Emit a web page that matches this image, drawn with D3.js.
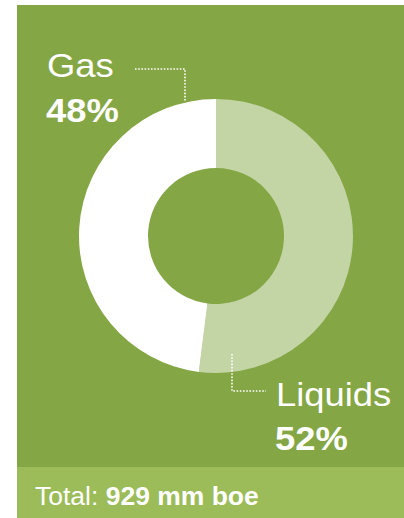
<!DOCTYPE html>
<html>
<head>
<meta charset="utf-8">
<script src="https://cdn.jsdelivr.net/npm/d3@7"></script>
<style>
  html, body { margin: 0; padding: 0; background: #fff; }
  svg { display: block; font-family: "Liberation Sans", Arial, sans-serif; }
</style>
</head>
<body>
<svg id="chart" width="404" height="518"></svg>
<script>
// Production mix
const categories = ["Liquids", "Gas"];
const shares = [52, 48];
const shareLabels = ["52%", "48%"];
const totalLabel = "Total:";
const totalValue = "929 mm boe";

const W = 404, H = 518;
const panel = { x: 17, y: 5, w: 387, h: 462 };
const footerH = H - (panel.y + panel.h);
const colors = d3.scaleOrdinal().domain(categories).range(["#c3d4a5", "#ffffff"]);

const svg = d3.select("#chart");

// background panels
svg.append("rect").attr("x", panel.x).attr("y", panel.y)
  .attr("width", panel.w).attr("height", panel.h).attr("fill", "#84a644");
svg.append("rect").attr("x", panel.x).attr("y", panel.y + panel.h)
  .attr("width", panel.w).attr("height", footerH).attr("fill", "#9bbc59");

// donut
const cx = 216, cy = 236, rOuter = 137, rInner = 68;
const pie = d3.pie().sort(null).value(d => d.v);
const arcs = pie(categories.map((c, i) => ({ c, v: shares[i] })));
const arc = d3.arc().innerRadius(rInner).outerRadius(rOuter);

const g = svg.append("g").attr("transform", `translate(${cx},${cy})`);
g.selectAll("path").data(arcs).join("path")
  .attr("d", arc)
  .attr("fill", d => colors(d.data.c));

// dotted leader lines
function leader(points) {
  svg.append("path")
    .attr("d", d3.line()(points))
    .attr("fill", "none")
    .attr("stroke", "#ffffff")
    .attr("stroke-width", 1.6)
    .attr("stroke-dasharray", "1.6,1.6");
}
leader([[135, 69], [185, 69], [185, 101]]);
leader([[232, 354], [232, 391], [266, 391]]);

// category labels
function label(x, y, text, weight, size) {
  svg.append("text")
    .attr("transform", `translate(${x},${y}) scale(1.07,1)`)
    .attr("fill", "#ffffff")
    .attr("font-size", size)
    .attr("font-weight", weight)
    .text(text);
}
label(47, 77, categories[1], "normal", 34);
label(46, 122, shareLabels[1], "bold", 34);
label(276, 406, categories[0], "normal", 34);
label(275, 450, shareLabels[0], "bold", 34);

// total
const t = svg.append("text")
  .attr("transform", `translate(35,505) scale(1.06,1)`)
  .attr("fill", "#ffffff")
  .attr("font-size", 25);
t.append("tspan").text(totalLabel + " ");
t.append("tspan").attr("font-weight", "bold").text(totalValue);
</script>
</body>
</html>
